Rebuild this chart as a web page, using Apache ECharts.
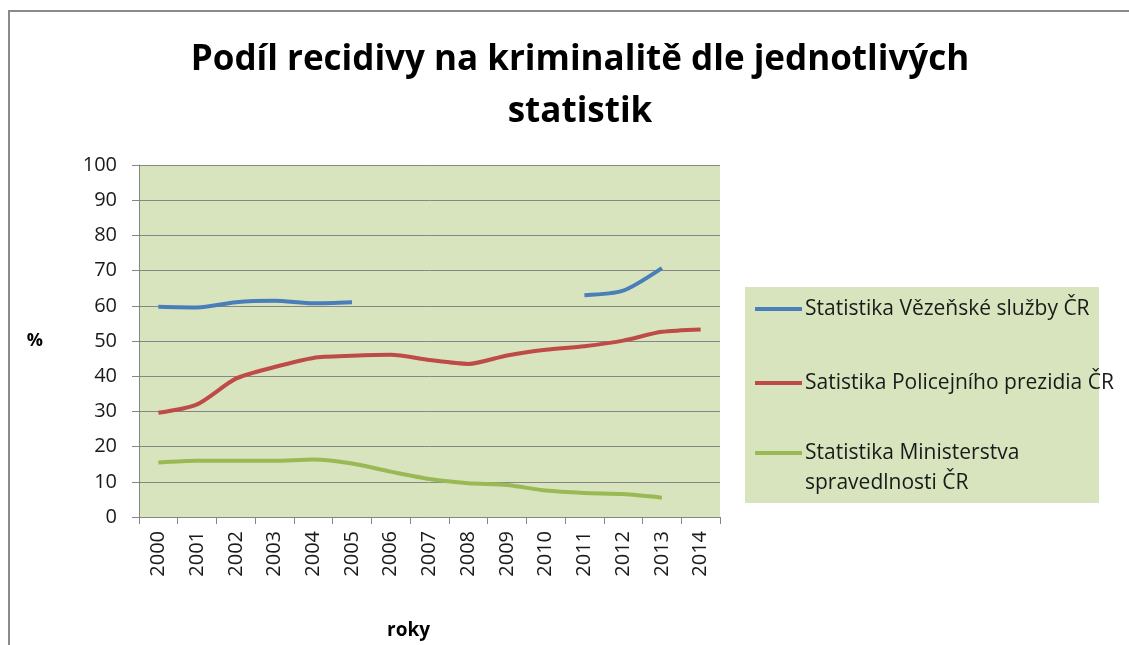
<!DOCTYPE html>
<html>
<head>
<meta charset="utf-8">
<script src="https://cdn.jsdelivr.net/npm/echarts@6/dist/echarts.min.js"></script>
<style>
  html, body { margin: 0; padding: 0; background: #fff; }
  #frame {
    position: absolute; left: 8px; top: 10px; width: 1200px; height: 700px;
    border-left: 2px solid #8a8a8a; border-top: 2px solid #8a8a8a;
  }
  #chart { position: absolute; left: 0; top: 0; width: 1129px; height: 645px; }
</style>
</head>
<body>
<div id="frame"></div>
<div id="chart"></div>
<script>
const years = ['2000', '2001', '2002', '2003', '2004', '2005', '2006', '2007',
  '2008', '2009', '2010', '2011', '2012', '2013', '2014']

const vezenskaSluzba = [59.7, 59.5, 61.0, 61.4, 60.7, 61.0, null, null,
  null, null, null, 63.0, 64.3, 70.7, null]
const policejniPrezidium = [29.6, 32.0, 39.3, 42.6, 45.2, 45.8, 46.1, 44.6,
  43.5, 45.9, 47.5, 48.5, 50.1, 52.6, 53.3]
const ministerstvoSpravedlnosti = [15.5, 16.0, 16.0, 16.0, 16.3, 15.2, 12.9, 10.8,
  9.6, 9.1, 7.5, 6.8, 6.5, 5.5, null]

const seriesNames = [
  'Statistika Vězeňské služby ČR',
  'Satistika Policejního prezidia ČR',
  'Statistika Ministerstva\nspravedlnosti ČR'
]
const colors = ['#4a7ebb', '#be4b48', '#98b954']

const font = '"Open Sans", "Noto Sans", sans-serif'
const gridColor = '#868686'
const plotFill = '#d7e4bd'

const chart = echarts.init(document.getElementById('chart'))

const makeLine = (name, data, color) => ({
  name,
  type: 'line',
  data,
  smooth: 0.25,
  symbol: 'none',
  connectNulls: false,
  lineStyle: { color, width: 4 },
  itemStyle: { color }
})

// shared legend look; the 3rd entry is a separate legend so that its
// marker sits on the first of its two text lines
const legendBase = {
  orient: 'vertical',
  left: 745,
  padding: [0, 10, 0, 10],
  itemWidth: 47,
  itemHeight: 4,
  icon: 'rect',
  textStyle: {
    fontFamily: font, fontSize: 21, color: '#1a1a1a', lineHeight: 30,
    padding: [0, 0, 0, -2]
  }
}

chart.setOption({
  animation: false,
  title: {
    text: 'Podíl recidivy na kriminalitě dle jednotlivých\nstatistik',
    left: 575,
    top: 29,
    textAlign: 'center',
    textStyle: {
      fontFamily: font,
      fontSize: 35,
      fontWeight: 'bold',
      color: '#000',
      lineHeight: 52
    }
  },
  graphic: [{
    type: 'rect',
    left: 745,
    top: 287,
    z: 1,
    shape: { width: 354, height: 216 },
    style: { fill: plotFill }
  }],
  legend: [
    Object.assign({}, legendBase, {
      top: 294,
      itemGap: 44,
      data: seriesNames.slice(0, 2)
    }),
    Object.assign({}, legendBase, {
      top: 378,
      data: seriesNames.slice(2),
      // two blank lines above and one below keep the marker on line 1
      formatter: '\n\n{name}\n'
    })
  ],
  grid: {
    left: 139,
    right: 409,
    top: 165,
    bottom: 124,
    show: true,
    backgroundColor: plotFill,
    borderWidth: 0
  },
  xAxis: {
    type: 'category',
    data: years,
    boundaryGap: true,
    name: 'roky',
    nameLocation: 'middle',
    nameGap: 104,
    nameTextStyle: {
      fontFamily: font, fontSize: 19, fontWeight: 'bold', color: '#000',
      padding: [0, 42, 0, 0]
    },
    axisLine: { lineStyle: { color: gridColor, width: 1 } },
    axisTick: { show: true, length: 7, lineStyle: { color: gridColor } },
    axisLabel: {
      rotate: 90,
      fontFamily: font,
      fontSize: 20,
      color: '#1a1a1a',
      margin: 14
    }
  },
  yAxis: {
    type: 'value',
    min: 0,
    max: 100,
    interval: 10,
    name: '%',
    nameLocation: 'middle',
    nameRotate: 0,
    nameGap: 96,
    nameTextStyle: {
      fontFamily: font, fontSize: 18, fontWeight: 'bold', color: '#000',
      padding: [0, 0, 30, 0]
    },
    axisLine: { show: true, lineStyle: { color: gridColor, width: 1 } },
    axisTick: { show: true, length: 7, lineStyle: { color: gridColor } },
    axisLabel: { fontFamily: font, fontSize: 20, color: '#1a1a1a', margin: 22 },
    splitLine: { show: true, lineStyle: { color: gridColor, width: 1 } }
  },
  series: [
    makeLine(seriesNames[0], vezenskaSluzba, colors[0]),
    makeLine(seriesNames[1], policejniPrezidium, colors[1]),
    makeLine(seriesNames[2], ministerstvoSpravedlnosti, colors[2])
  ]
})
</script>
</body>
</html>
